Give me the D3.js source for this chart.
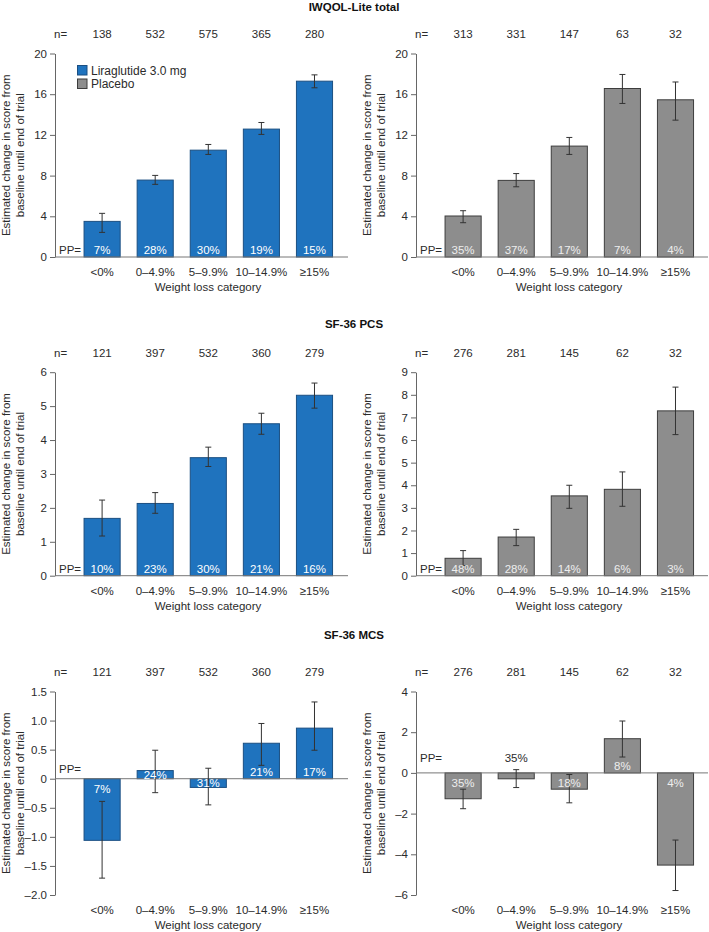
<!DOCTYPE html>
<html><head><meta charset="utf-8">
<script src="https://cdn.jsdelivr.net/npm/d3@7"></script>
<style>
body{margin:0;background:#fff;}
svg text{font-family:"Liberation Sans",Arial,Helvetica,sans-serif;}
</style></head>
<body><svg id="chart" width="709" height="932" fill="#2b2b2b"></svg>
<script>
const categories = ["<0%", "0–4.9%", "5–9.9%", "10–14.9%", "≥15%"];
const seriesNames = ["Liraglutide 3.0 mg", "Placebo"];
const panelTitles = ["IWQOL-Lite total", "SF-36 PCS", "SF-36 MCS"];

// IWQOL-Lite total
const iwqolLiraN = [138, 532, 575, 365, 280];
const iwqolLiraMean = [3.5, 7.56, 10.5, 12.57, 17.28];
const iwqolLiraLo = [2.42, 7.14, 10.08, 12.05, 16.63];
const iwqolLiraHi = [4.29, 8.02, 11.06, 13.22, 17.9];
const iwqolLiraPP = ["7%", "28%", "30%", "19%", "15%"];
const iwqolPlaN = [313, 331, 147, 63, 32];
const iwqolPlaMean = [4.03, 7.53, 10.9, 16.56, 15.45];
const iwqolPlaLo = [3.37, 6.9, 10.08, 15.09, 13.45];
const iwqolPlaHi = [4.55, 8.2, 11.75, 17.94, 17.2];
const iwqolPlaPP = ["35%", "37%", "17%", "7%", "4%"];
const iwqolTicks = [0, 4, 8, 12, 16, 20];

// SF-36 PCS
const pcsLiraN = [121, 397, 532, 360, 279];
const pcsLiraMean = [1.69, 2.13, 3.48, 4.48, 5.32];
const pcsLiraLo = [1.17, 1.84, 3.22, 4.17, 4.94];
const pcsLiraHi = [2.23, 2.45, 3.79, 4.79, 5.68];
const pcsLiraPP = ["10%", "23%", "30%", "21%", "16%"];
const pcsPlaN = [276, 281, 145, 62, 32];
const pcsPlaMean = [0.77, 1.71, 3.53, 3.82, 7.29];
const pcsPlaLo = [0.45, 1.33, 2.98, 3.07, 6.24];
const pcsPlaHi = [1.11, 2.05, 4.0, 4.59, 8.34];
const pcsPlaPP = ["48%", "28%", "14%", "6%", "3%"];
const pcsLiraTicks = [0, 1, 2, 3, 4, 5, 6];
const pcsPlaTicks = [0, 1, 2, 3, 4, 5, 6, 7, 8, 9];

// SF-36 MCS
const mcsLiraN = [121, 397, 532, 360, 279];
const mcsLiraMean = [-1.06, 0.14, -0.15, 0.61, 0.87];
const mcsLiraLo = [-1.71, -0.24, -0.45, 0.23, 0.49];
const mcsLiraHi = [-0.39, 0.49, 0.18, 0.95, 1.32];
const mcsLiraPP = ["7%", "24%", "31%", "21%", "17%"];
const mcsPlaN = [276, 281, 145, 62, 32];
const mcsPlaMean = [-1.27, -0.29, -0.8, 1.68, -4.53];
const mcsPlaLo = [-1.76, -0.72, -1.47, 0.78, -5.78];
const mcsPlaHi = [-0.8, 0.16, -0.08, 2.55, -3.3];
const mcsPlaPP = ["35%", "35%", "18%", "8%", "4%"];
const mcsLiraTicks = [-2, -1.5, -1, -0.5, 0, 0.5, 1, 1.5];
const mcsPlaTicks = [-6, -4, -2, 0, 2, 4];

const yLabel1 = "Estimated change in score from";
const yLabel2 = "baseline until end of trial";
const xLabel = "Weight loss category";

const COLORS = {lira: "#1f73be", liraStroke: "#1b4f82", pla: "#8d8d8d", plaStroke: "#3d3d3d"};

const panels = [
  {row: 0, col: 0, kind: "lira", n: iwqolLiraN, mean: iwqolLiraMean, lo: iwqolLiraLo, hi: iwqolLiraHi, pp: iwqolLiraPP, ticks: iwqolTicks, legend: true, ppBottom: true},
  {row: 0, col: 1, kind: "pla", n: iwqolPlaN, mean: iwqolPlaMean, lo: iwqolPlaLo, hi: iwqolPlaHi, pp: iwqolPlaPP, ticks: iwqolTicks, ppBottom: true},
  {row: 1, col: 0, kind: "lira", n: pcsLiraN, mean: pcsLiraMean, lo: pcsLiraLo, hi: pcsLiraHi, pp: pcsLiraPP, ticks: pcsLiraTicks, ppBottom: true},
  {row: 1, col: 1, kind: "pla", n: pcsPlaN, mean: pcsPlaMean, lo: pcsPlaLo, hi: pcsPlaHi, pp: pcsPlaPP, ticks: pcsPlaTicks, ppBottom: true},
  {row: 2, col: 0, kind: "lira", n: mcsLiraN, mean: mcsLiraMean, lo: mcsLiraLo, hi: mcsLiraHi, pp: mcsLiraPP, ticks: mcsLiraTicks, ppBottom: false, decimals: true},
  {row: 2, col: 1, kind: "pla", n: mcsPlaN, mean: mcsPlaMean, lo: mcsPlaLo, hi: mcsPlaHi, pp: mcsPlaPP, ticks: mcsPlaTicks, ppBottom: false}
];

const svg = d3.select("#chart");
const rowDY = [0, 318.7, 638];
const titleY = [11, 328, 639];
const colDX = [0, 361];
const FS = 11.5;

function fmtTick(d, decimals) {
  if (d === 0) return "0";
  const s = decimals ? d3.format(".1f")(Math.abs(d)) : String(Math.abs(d));
  return (d < 0 ? "–" : "") + s;
}

panelTitles.forEach((t, i) => {
  svg.append("text").attr("x", 354).attr("y", titleY[i]).attr("text-anchor", "middle")
    .attr("font-size", 11.5).attr("font-weight", "bold").attr("fill", "#111").text(t);
});

panels.forEach(p => {
  const dx = colDX[p.col], dy = rowDY[p.row];
  const g = svg.append("g").attr("transform", `translate(${dx},${dy})`);
  const axisX = 55, rightX = p.col === 0 ? 348 : 347;
  const yTop = 53.5, yBot = 257;
  const y = d3.scaleLinear().domain(d3.extent(p.ticks)).range([yBot, yTop]);
  const x = d3.scaleBand().domain(categories).range([66, 350.6]).paddingInner(0.32).paddingOuter(0.34);
  const bw = x.bandwidth();
  const fill = p.kind === "lira" ? COLORS.lira : COLORS.pla;
  const stroke = p.kind === "lira" ? COLORS.liraStroke : COLORS.plaStroke;

  // y axis
  const ax = g.append("g").attr("transform", `translate(${axisX},0)`)
    .call(d3.axisLeft(y).tickValues(p.ticks).tickSize(5).tickSizeOuter(0).tickPadding(3)
      .tickFormat(d => fmtTick(d, p.decimals)));
  ax.select(".domain").attr("stroke", "#666");
  ax.selectAll(".tick line").attr("stroke", "#666");
  ax.selectAll(".tick text").attr("font-size", FS).attr("fill", "#2b2b2b")
    .attr("font-family", '"Liberation Sans",Arial,sans-serif');

  // bars
  g.selectAll("rect.bar").data(categories).enter().append("rect")
    .attr("x", c => x(c)).attr("width", bw)
    .attr("y", (c, i) => y(Math.max(0, p.mean[i])))
    .attr("height", (c, i) => Math.abs(y(p.mean[i]) - y(0)))
    .attr("fill", fill).attr("stroke", stroke).attr("stroke-width", 1);

  // zero line
  g.append("line").attr("x1", axisX).attr("x2", rightX).attr("y1", y(0)).attr("y2", y(0))
    .attr("stroke", "#777").attr("stroke-width", 1);

  // error bars
  categories.forEach((c, i) => {
    const cx = x(c) + bw / 2;
    const eg = g.append("g").attr("stroke", "#333").attr("stroke-width", 1);
    eg.append("line").attr("x1", cx).attr("x2", cx).attr("y1", y(p.lo[i])).attr("y2", y(p.hi[i]));
    eg.append("line").attr("x1", cx - 3).attr("x2", cx + 3).attr("y1", y(p.lo[i])).attr("y2", y(p.lo[i]));
    eg.append("line").attr("x1", cx - 3).attr("x2", cx + 3).attr("y1", y(p.hi[i])).attr("y2", y(p.hi[i]));
  });

  // n row
  g.append("text").attr("x", 54).attr("y", 38).attr("font-size", FS).text("n=");
  categories.forEach((c, i) => {
    g.append("text").attr("x", x(c) + bw / 2).attr("y", 38).attr("text-anchor", "middle")
      .attr("font-size", FS).text(p.n[i]);
  });

  // PP labels
  const ppColor = p.kind === "lira" ? "#ffffff" : "#eeeeee";
  if (p.ppBottom) {
    g.append("text").attr("x", 59).attr("y", yBot - 3).attr("font-size", FS).text("PP=");
    categories.forEach((c, i) => {
      g.append("text").attr("x", x(c) + bw / 2).attr("y", yBot - 3).attr("text-anchor", "middle")
        .attr("font-size", FS).attr("fill", ppColor).text(p.pp[i]);
    });
  } else {
    const z = y(0);
    g.append("text").attr("x", 59).attr("y", p.col === 0 ? z - 6 : z - 11).attr("font-size", FS).text("PP=");
    categories.forEach((c, i) => {
      const h = Math.abs(y(p.mean[i]) - z);
      let ty, col = ppColor;
      if (h < 6) { ty = z - 11; col = "#2b2b2b"; }
      else if (p.mean[i] > 0) ty = z - (h < 10 ? 0 : 3);
      else ty = z + (h < 10 ? 8 : 14);
      g.append("text").attr("x", x(c) + bw / 2).attr("y", ty).attr("text-anchor", "middle")
        .attr("font-size", FS).attr("fill", col).text(p.pp[i]);
    });
  }

  // category labels
  categories.forEach(c => {
    g.append("text").attr("x", x(c) + bw / 2).attr("y", yBot + 19).attr("text-anchor", "middle")
      .attr("font-size", FS).text(c);
  });
  g.append("text").attr("x", 208).attr("y", yBot + 34).attr("text-anchor", "middle")
    .attr("font-size", FS).text(xLabel);

  // y label
  const ym = (yTop + yBot) / 2;
  g.append("text").attr("transform", `translate(${axisX - 45},${ym}) rotate(-90)`)
    .attr("text-anchor", "middle").attr("font-size", FS).text(yLabel1);
  g.append("text").attr("transform", `translate(${axisX - 31},${ym}) rotate(-90)`)
    .attr("text-anchor", "middle").attr("font-size", FS).text(yLabel2);

  // legend
  if (p.legend) {
    const lg = g.append("g");
    [["lira", seriesNames[0]], ["pla", seriesNames[1]]].forEach(([k, name], i) => {
      lg.append("rect").attr("x", 77.5).attr("y", 65.5 + i * 13.5).attr("width", 9.5).attr("height", 9.5)
        .attr("fill", COLORS[k]).attr("stroke", COLORS[k + "Stroke"]).attr("stroke-width", 1);
      lg.append("text").attr("x", 91).attr("y", 74.5 + i * 13.5).attr("font-size", 12).text(name);
    });
  }
});
</script></body></html>
